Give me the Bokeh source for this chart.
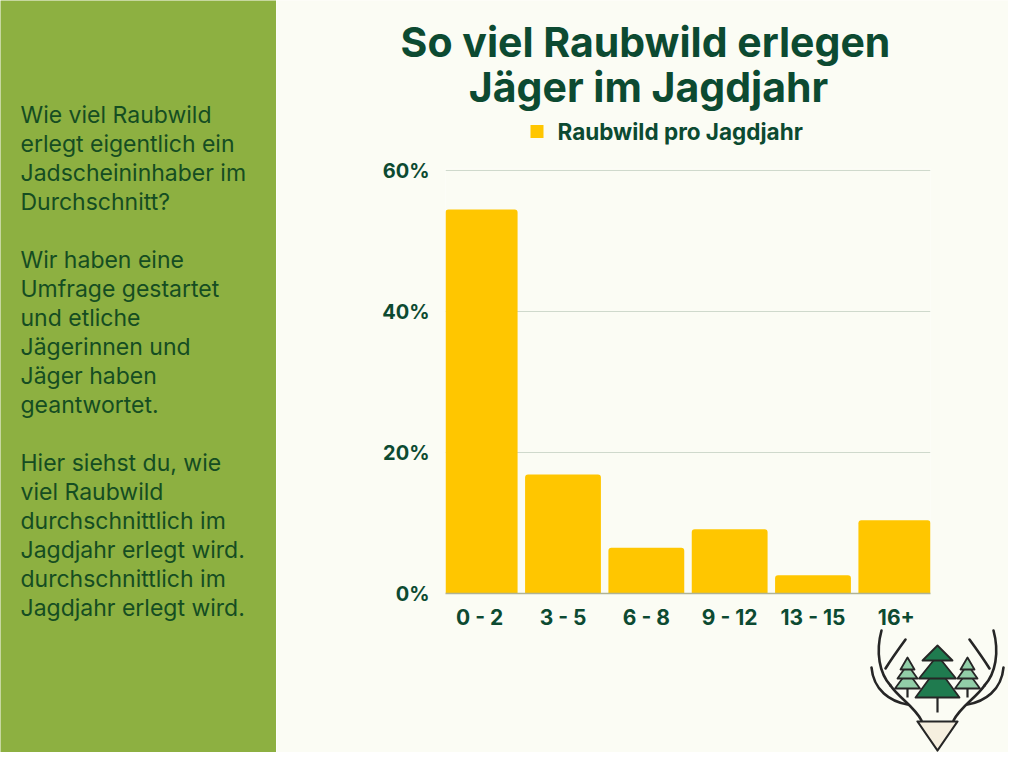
from bokeh.plotting import figure
from bokeh.layouts import row, column
from bokeh.models import (ColumnDataSource, FactorRange, Range1d, FixedTicker,
                          PrintfTickFormatter)
from bokeh.core.properties import value
from bokeh.embed import file_html
from bokeh.resources import INLINE

# ---------------- data ----------------
categories = ["0 - 2", "3 - 5", "6 - 8", "9 - 12", "13 - 15", "16+"]
shares = [54.5, 16.9, 6.5, 9.1, 2.6, 10.4]
y_ticks = [0, 20, 40, 60]
series_name = "Raubwild pro Jagdjahr"
title_lines = ["So viel Raubwild erlegen", "Jäger im Jagdjahr"]
side_text = [
    "Wie viel Raubwild", "erlegt eigentlich ein", "Jadscheininhaber im", "Durchschnitt?", "",
    "Wir haben eine", "Umfrage gestartet", "und etliche", "Jägerinnen und", "Jäger haben", "geantwortet.", "",
    "Hier siehst du, wie", "viel Raubwild", "durchschnittlich im", "Jagdjahr erlegt wird.",
    "durchschnittlich im", "Jagdjahr erlegt wird.",
]

BG = "#fbfcf4"
GREEN_PANEL = "#8db041"
DARK = "#0c4a31"
TEXT_DARK = "#154d22"
BAR = "#ffc600"
FONT = "Inter"


def blank(fig, bg):
    fig.axis.visible = False
    fig.grid.visible = False
    fig.outline_line_color = None
    fig.background_fill_color = bg
    fig.border_fill_color = bg


# ---------------- left panel ----------------
left = figure(width=276, height=752, x_range=Range1d(0, 276), y_range=Range1d(752, 0),
              output_backend="svg", toolbar_location=None, min_border=0)
blank(left, GREEN_PANEL)
ys = [114 + 29 * i for i in range(len(side_text))]
left.text(x=[20] * len(side_text), y=ys, text=side_text, text_font=value(FONT),
          text_font_size="23px", text_color=TEXT_DARK, text_baseline="middle",
          text_align="left")

# ---------------- chart ----------------
src = ColumnDataSource(dict(cat=categories, val=shares))
p = figure(width=732, height=752,
           x_range=FactorRange(*categories, range_padding=-0.03),
           y_range=Range1d(0, 60.3),
           output_backend="svg", toolbar_location=None,
           min_border_left=169, min_border_right=78, min_border_top=168, min_border_bottom=159)
p.background_fill_color = BG
p.border_fill_color = BG
p.outline_line_color = None
r = p.vbar(x="cat", top="val", width=0.91, source=src, fill_color=BAR, line_color=None,
           border_radius=(3, 3, 0, 0), legend_label=series_name)
p.legend.visible = False

p.xgrid.visible = False
p.ygrid.grid_line_color = "#cfd9cc"
p.ygrid.ticker = FixedTicker(ticks=y_ticks)

p.yaxis.ticker = FixedTicker(ticks=y_ticks)
p.yaxis.formatter = PrintfTickFormatter(format="%d%%")
p.yaxis.axis_line_color = None
p.yaxis.major_tick_line_color = None
p.yaxis.minor_tick_line_color = None
p.yaxis.major_label_standoff = 10

p.xaxis.axis_line_color = "#b0b394"
p.xaxis.axis_line_width = 1.5
p.xaxis.major_tick_line_color = None
p.xaxis.minor_tick_line_color = None
p.xaxis.major_label_standoff = 5

for ax in (p.xaxis, p.yaxis):
    ax.major_label_text_font = FONT
    ax.major_label_text_font_size = "20px"
    ax.major_label_text_font_style = "bold"
    ax.major_label_text_color = DARK
p.xaxis.major_label_text_font_size = "21px"

# ---------------- header (title + legend), overlaid on the chart's top border ----------------
head = figure(width=732, height=150, x_range=Range1d(276, 1008), y_range=Range1d(150, 0),
              output_backend="svg", toolbar_location=None, min_border=0)
blank(head, BG)
head.text(x=[645, 648], y=[41, 86], text=title_lines, text_font=value(FONT),
          text_font_size="41px", text_font_style="bold", text_color=DARK,
          text_align="center", text_baseline="middle")
head.scatter(x=[536.5], y=[131], marker="square", size=13, fill_color=BAR, line_color=None)
head.text(x=[557], y=[131], text=[series_name], text_font=value(FONT),
          text_font_size="22.5px", text_font_style="bold", text_color=DARK,
          text_align="left", text_baseline="middle")

# ---------------- logo, overlaid on the chart's bottom-right corner ----------------
logo = figure(width=140, height=124, x_range=Range1d(868, 1008), y_range=Range1d(752, 628),
              output_backend="svg", toolbar_location=None, min_border=0)
blank(logo, BG)

C = 937
INK = "#262626"


def mirror(xs):
    return [2 * C - x for x in xs]


# left antler as bezier strokes; the right one is its mirror image
ant = dict(x0=[881, 890, 905, 871], y0=[630, 685, 639, 667],
           x1=[890, 921, 885, 907], y1=[685, 720, 668, 704],
           cx0=[875, 898, 897, 873], cy0=[652, 697, 650, 690],
           cx1=[879, 914, 890, 890], cy1=[673, 706, 660, 701])
for flip in (False, True):
    d = dict(ant)
    if flip:
        for k in ("x0", "x1", "cx0", "cx1"):
            d[k] = mirror(d[k])
    logo.bezier(x0=d["x0"], y0=d["y0"], x1=d["x1"], y1=d["y1"], cx0=d["cx0"], cy0=d["cy0"],
                cx1=d["cx1"], cy1=d["cy1"], line_color=INK, line_width=2.6, line_cap="round")


def tree(cx, apexes, bases, halves, trunk, fill):
    xs = [[cx, cx - h, cx + h] for h in halves]
    yy = [[a, b, b] for a, b in zip(apexes, bases)]
    logo.segment(x0=[cx], y0=[trunk[0]], x1=[cx], y1=[trunk[1]], line_color=INK, line_width=2.2)
    logo.patches(xs=xs[::-1], ys=yy[::-1], fill_color=fill, line_color=INK, line_width=1.8,
                 line_join="round")


for cx in (907, 967):
    tree(cx, [657, 664, 671], [669, 678, 688], [7, 10, 12.5], (686, 697), "#92cea8")
tree(937, [645, 655, 667], [660, 678, 697], [15, 18.5, 22], (695, 712), "#1f7b4f")

logo.patch(x=[917, 957, 937], y=[721, 721, 750], fill_color="#f6efdf", line_color=INK,
           line_width=2.2, line_join="round")

layout = row(column(left), column(p),
             column(head, margin=(0, 0, 0, -732)),
             column(logo, margin=(628, 0, 0, -140)), spacing=0)
open("out.html", "w").write(file_html(layout, INLINE))
